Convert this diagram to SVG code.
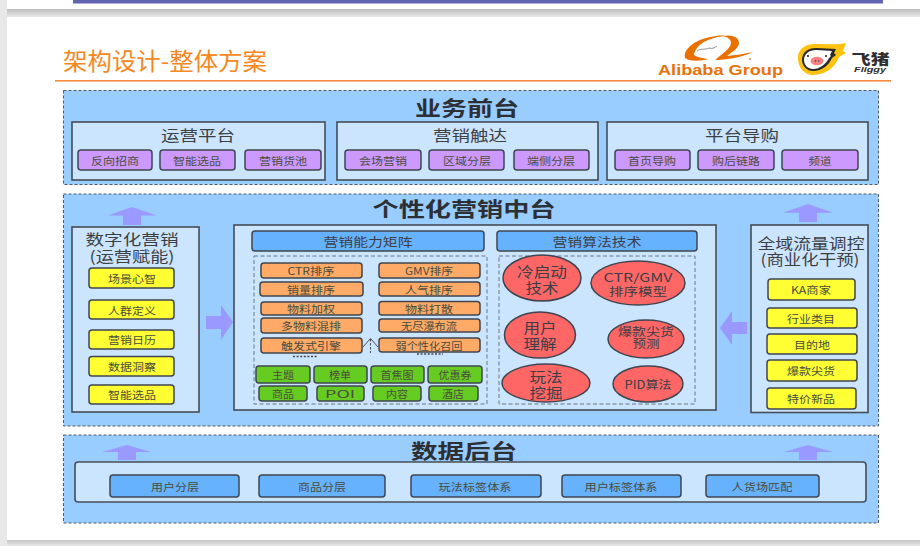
<svg xmlns="http://www.w3.org/2000/svg" width="920" height="546" viewBox="0 0 920 546">
<style>
text{font-family:"Noto Sans CJK SC","Liberation Sans",sans-serif;text-anchor:middle;dominant-baseline:central;fill:#3c3f44}
.panel{fill:#99ccff;stroke:#4f5a68;stroke-width:1;stroke-dasharray:3 2}
.box{fill:#cce5ff;stroke:#454d58;stroke-width:1.6}
.inner{fill:none;stroke:#6a7480;stroke-width:1;stroke-dasharray:4 2.5}
.p,.y,.o,.g,.b,.e{stroke:#3f4650;stroke-width:1.5}
.p{fill:#cc99ff}.y{fill:#ffff33}.o{fill:#ffaa66}.g{fill:#66cc22}.b{fill:#66b2ff}.e{fill:#ff6666}
.arrow{fill:#9999ff}
.h1{font-size:20px;font-weight:700;fill:#2c2f33}
.h2{font-size:15px}
.h3{font-size:12.5px}
.t{font-size:10px;fill:#4a4d3c}
.m{font-size:13.5px}
.s{font-size:11.5px}
</style>

<!-- slide backdrop -->
<defs>
<linearGradient id="gap" x1="0" y1="0" x2="0" y2="1"><stop offset="0" stop-color="#bdbdbd"/><stop offset="1" stop-color="#e8e8e8"/></linearGradient>
<linearGradient id="gapB" x1="0" y1="0" x2="0" y2="1"><stop offset="0" stop-color="#c4c4c4"/><stop offset="1" stop-color="#e8e8e8"/></linearGradient>
</defs>
<rect width="920" height="546" fill="#e8e8e8"/>
<rect x="7" y="0" width="913" height="9" fill="#fff"/>
<rect x="7" y="9" width="913" height="8" fill="url(#gap)"/>
<rect x="73" y="0" width="810" height="3.5" fill="#5f63b0"/>
<rect x="7" y="17" width="913" height="523" fill="#fff"/>
<rect x="7" y="540" width="913" height="6" fill="url(#gapB)"/>

<!-- heading -->
<g id="title">
<text x="165" y="60" textLength="204" lengthAdjust="spacingAndGlyphs" style="font-size:23.5px;fill:#f5881f">架构设计-整体方案</text>
<rect x="55" y="80" width="836" height="1.6" fill="#f98a3c"/>
</g>

<!-- Alibaba Group mark -->
<g id="logo-alibaba">
<path d="M685 58C683 49 695 40 710 37C716 36 722 35 725 36C715 37 706 40 701 44C697 47 694 52 694 55C698 58 704 58 708 59C702 61 690 62 685 58Z" fill="#ea7000"/>
<path d="M723 36C732 34 739 37 739 43C739 48 732 52 727 56C735 55 745 54 753 52C745 56 730 60 715 60C722 54 731 48 731 43C731 39 727 37 723 36Z" fill="#ea7000"/>
<path d="M697 51C701 48 706 50 709 48C712 49 715 48 717 46" fill="none" stroke="#666" stroke-width=".7"/>
<circle cx="750" cy="59" r="1.2" fill="#e9a878"/>
<text x="720.5" y="70" textLength="125" lengthAdjust="spacingAndGlyphs" style="font-family:'Liberation Sans',sans-serif;font-size:14px;font-weight:700;fill:#e8720c">Alibaba Group</text>
</g>

<!-- Fliggy mark -->
<g id="logo-fliggy">
<path d="M798 60C797 50 804 44 815 44C827 44 838 45 846 43L843 51L846 53L839 57C836 66 826 75 813 75C804 75 799 68 798 60Z" fill="#ffc20e"/>
<path d="M802 60C802 52 808 48 816 48C824 48 830 49 836 49L834 53L836 55L832 58C829 65 822 71 813 71C807 71 802 66 802 60Z" fill="#2a2a2a"/>
<path d="M804 60C804 54 809 50 816 50C823 50 828 51 832 51L830 55L831 56L829 58C826 64 820 69 813 69C808 69 804 65 804 60Z" fill="#fff"/>
<ellipse cx="817" cy="61" rx="6.5" ry="4.2" fill="#fb7f85"/>
<circle cx="815.5" cy="61" r=".8" fill="#333"/><circle cx="818.8" cy="61" r=".8" fill="#333"/>
<circle cx="808" cy="56" r="1" fill="#222"/><circle cx="826" cy="56" r="1" fill="#222"/>
<text x="870.5" y="57.5" textLength="38" lengthAdjust="spacingAndGlyphs" style="font-size:14px;font-weight:900;fill:#2f2f2f">飞猪</text>
<text x="870" y="69.5" textLength="32" lengthAdjust="spacingAndGlyphs" style="font-family:'Liberation Sans',sans-serif;font-size:7.5px;font-style:italic;font-weight:700;fill:#2f2f2f">Fliggy</text>
</g>

<!-- top tier -->
<g id="tier-front">
<rect class="panel" x="63.5" y="90.5" width="815" height="94"/>
<text class="h1" x="467" y="107.5" textLength="104" lengthAdjust="spacingAndGlyphs">业务前台</text>
</g>
<g id="front-ops">
<rect class="box" x="72" y="122" width="253" height="58"/>
<text class="h2" x="198" y="134.5" textLength="74" lengthAdjust="spacingAndGlyphs">运营平台</text>
<rect class="p" x="78" y="150" width="74" height="20" rx="3"/><text class="t" x="115" y="160" textLength="48" lengthAdjust="spacingAndGlyphs">反向招商</text>
<rect class="p" x="160" y="150" width="75" height="20" rx="3"/><text class="t" x="197" y="160" textLength="48" lengthAdjust="spacingAndGlyphs">智能选品</text>
<rect class="p" x="245" y="150" width="76" height="20" rx="3"/><text class="t" x="283" y="160" textLength="48" lengthAdjust="spacingAndGlyphs">营销货池</text>
</g>
<g id="front-reach">
<rect class="box" x="337" y="122" width="261" height="58"/>
<text class="h2" x="470" y="134.5" textLength="74" lengthAdjust="spacingAndGlyphs">营销触达</text>
<rect class="p" x="345" y="150" width="76" height="20" rx="3"/><text class="t" x="383" y="160" textLength="48" lengthAdjust="spacingAndGlyphs">会场营销</text>
<rect class="p" x="429" y="150" width="75" height="20" rx="3"/><text class="t" x="467" y="160" textLength="48" lengthAdjust="spacingAndGlyphs">区域分层</text>
<rect class="p" x="514" y="150" width="75" height="20" rx="3"/><text class="t" x="551" y="160" textLength="48" lengthAdjust="spacingAndGlyphs">端侧分层</text>
</g>
<g id="front-guide">
<rect class="box" x="607" y="122" width="261" height="58"/>
<text class="h2" x="742" y="134.5" textLength="74" lengthAdjust="spacingAndGlyphs">平台导购</text>
<rect class="p" x="615" y="150" width="75" height="20" rx="3"/><text class="t" x="652" y="160" textLength="48" lengthAdjust="spacingAndGlyphs">首页导购</text>
<rect class="p" x="698" y="150" width="76" height="20" rx="3"/><text class="t" x="736" y="160" textLength="48" lengthAdjust="spacingAndGlyphs">购后链路</text>
<rect class="p" x="782" y="150" width="76" height="20" rx="3"/><text class="t" x="820" y="160" textLength="23" lengthAdjust="spacingAndGlyphs">频道</text>
</g>

<!-- middle tier -->
<g id="tier-middle">
<rect class="panel" x="63.5" y="194" width="815" height="232"/>
<text class="h1" x="464" y="208.5" textLength="183" lengthAdjust="spacingAndGlyphs">个性化营销中台</text>
</g>

<g id="digital-marketing">
<rect class="box" x="72" y="227" width="127" height="185"/>
<text class="h2" x="132" y="238" textLength="93" lengthAdjust="spacingAndGlyphs">数字化营销</text>
<text class="h2" x="132" y="255" textLength="85" lengthAdjust="spacingAndGlyphs">(运营赋能)</text>
<rect class="y" x="89" y="268" width="85" height="20" rx="3"/><text class="t" x="132" y="278" textLength="48" lengthAdjust="spacingAndGlyphs">场景心智</text>
<rect class="y" x="89" y="300" width="85" height="19" rx="3"/><text class="t" x="132" y="310" textLength="48" lengthAdjust="spacingAndGlyphs">人群定义</text>
<rect class="y" x="89" y="330" width="85" height="19" rx="3"/><text class="t" x="132" y="339.5" textLength="48" lengthAdjust="spacingAndGlyphs">营销日历</text>
<rect class="y" x="89" y="356.5" width="85" height="19.5" rx="3"/><text class="t" x="132" y="366" textLength="48" lengthAdjust="spacingAndGlyphs">数据洞察</text>
<rect class="y" x="89" y="385" width="85" height="19" rx="3"/><text class="t" x="132" y="394.5" textLength="48" lengthAdjust="spacingAndGlyphs">智能选品</text>
</g>

<g id="capability-center">
<rect class="box" x="234" y="225" width="482" height="185"/>
</g>

<g id="capability-matrix">
<rect class="b" x="252" y="231" width="232" height="20" rx="3"/>
<text class="h3" x="368" y="241" textLength="89" lengthAdjust="spacingAndGlyphs">营销能力矩阵</text>
<rect class="inner" x="254" y="256" width="233" height="148"/>
<rect class="o" x="261" y="263" width="101" height="15" rx="3"/><text class="t" x="311" y="270.5" textLength="47" lengthAdjust="spacingAndGlyphs">CTR排序</text>
<rect class="o" x="379" y="263" width="101" height="15" rx="3"/><text class="t" x="429" y="270.5" textLength="48" lengthAdjust="spacingAndGlyphs">GMV排序</text>
<rect class="o" x="260" y="282" width="103" height="14" rx="3"/><text class="t" x="311" y="289" textLength="48" lengthAdjust="spacingAndGlyphs">销量排序</text>
<rect class="o" x="379" y="282" width="101" height="14" rx="3"/><text class="t" x="429" y="289" textLength="48" lengthAdjust="spacingAndGlyphs">人气排序</text>
<rect class="o" x="261" y="302" width="101" height="13" rx="3"/><text class="t" x="311" y="308" textLength="48" lengthAdjust="spacingAndGlyphs">物料加权</text>
<rect class="o" x="379" y="301.5" width="101" height="13.5" rx="3"/><text class="t" x="429" y="308" textLength="48" lengthAdjust="spacingAndGlyphs">物料打散</text>
<rect class="o" x="261" y="318" width="101" height="15" rx="3"/><text class="t" x="311" y="325" textLength="60" lengthAdjust="spacingAndGlyphs">多物料混排</text>
<rect class="o" x="379" y="319" width="101" height="13" rx="3"/><text class="t" x="429" y="325" textLength="56" lengthAdjust="spacingAndGlyphs">无尽瀑布流</text>
<rect class="o" x="261" y="338" width="101" height="15" rx="3"/><text class="t" x="311" y="345" textLength="60" lengthAdjust="spacingAndGlyphs">触发式引擎</text>
<rect class="o" x="379" y="338" width="101" height="14" rx="3"/><text class="t" x="429" y="345" textLength="67" lengthAdjust="spacingAndGlyphs">弱个性化召回</text>
<path d="M293 356.500H318M417 354H443" stroke="#444" stroke-width="1.5" stroke-dasharray="2 1.6" fill="none"/>
<rect class="g" x="256" y="366" width="54" height="17" rx="3"/><text class="t" x="283" y="374" textLength="22" lengthAdjust="spacingAndGlyphs">主题</text>
<rect class="g" x="314" y="366" width="53" height="17" rx="3"/><text class="t" x="340" y="374" textLength="22" lengthAdjust="spacingAndGlyphs">榜单</text>
<rect class="g" x="371" y="366" width="53" height="17" rx="3"/><text class="t" x="397" y="374" textLength="33" lengthAdjust="spacingAndGlyphs">首焦图</text>
<rect class="g" x="428" y="366" width="54" height="17" rx="3"/><text class="t" x="455" y="374" textLength="33" lengthAdjust="spacingAndGlyphs">优惠券</text>
<rect class="g" x="259" y="386" width="48" height="15" rx="3"/><text class="t" x="283" y="393.5" textLength="22" lengthAdjust="spacingAndGlyphs">商品</text>
<rect class="g" x="317" y="386" width="47" height="15" rx="3"/><text class="t" x="340" y="393.5" textLength="30" lengthAdjust="spacingAndGlyphs">POI</text>
<rect class="g" x="373" y="386" width="48" height="15" rx="3"/><text class="t" x="397" y="393.5" textLength="22" lengthAdjust="spacingAndGlyphs">内容</text>
<rect class="g" x="429" y="386" width="49" height="15" rx="3"/><text class="t" x="453" y="393.5" textLength="22" lengthAdjust="spacingAndGlyphs">酒店</text>
</g>

<g id="algorithms">
<rect class="b" x="497" y="231" width="200" height="20" rx="3"/>
<text class="h3" x="597" y="241" textLength="89" lengthAdjust="spacingAndGlyphs">营销算法技术</text>
<rect class="inner" x="499" y="256" width="196" height="148"/>
<ellipse class="e" cx="542" cy="278" rx="39" ry="23"/>
<text class="m" x="542" y="271" textLength="50" lengthAdjust="spacingAndGlyphs">冷启动</text>
<text class="m" x="542" y="287" textLength="33" lengthAdjust="spacingAndGlyphs">技术</text>
<ellipse class="e" cx="638" cy="283" rx="47" ry="22"/>
<text class="s" x="638" y="277" textLength="69" lengthAdjust="spacingAndGlyphs">CTR/GMV</text>
<text class="s" x="638" y="291" textLength="58" lengthAdjust="spacingAndGlyphs">排序模型</text>
<ellipse class="e" cx="540" cy="335" rx="35.5" ry="23"/>
<text class="m" x="540" y="327" textLength="33" lengthAdjust="spacingAndGlyphs">用户</text>
<text class="m" x="540" y="343" textLength="33" lengthAdjust="spacingAndGlyphs">理解</text>
<ellipse class="e" cx="646" cy="339" rx="38" ry="19"/>
<text class="s" x="646" y="331" textLength="56" lengthAdjust="spacingAndGlyphs">爆款尖货</text>
<text class="s" x="646" y="343" textLength="27" lengthAdjust="spacingAndGlyphs">预测</text>
<ellipse class="e" cx="546" cy="383" rx="44" ry="19"/>
<text class="m" x="546" y="376" textLength="33" lengthAdjust="spacingAndGlyphs">玩法</text>
<text class="m" x="546" y="392" textLength="33" lengthAdjust="spacingAndGlyphs">挖掘</text>
<ellipse class="e" cx="648" cy="384" rx="35" ry="18"/>
<text class="s" x="648" y="384" textLength="47" lengthAdjust="spacingAndGlyphs">PID算法</text>
</g>

<g id="traffic-control">
<rect class="box" x="751" y="225" width="117" height="187.5"/>
<text class="h2" x="811" y="242" textLength="107" lengthAdjust="spacingAndGlyphs">全域流量调控</text>
<text class="h2" x="810" y="258.500" textLength="99" lengthAdjust="spacingAndGlyphs">(商业化干预)</text>
<rect class="y" x="768" y="279" width="87" height="21" rx="3"/><text class="t" x="811" y="289.500" textLength="40" lengthAdjust="spacingAndGlyphs">KA商家</text>
<rect class="y" x="767" y="308" width="90" height="20" rx="3"/><text class="t" x="811" y="318" textLength="48" lengthAdjust="spacingAndGlyphs">行业类目</text>
<rect class="y" x="767" y="334" width="90" height="20" rx="3"/><text class="t" x="812" y="344" textLength="36" lengthAdjust="spacingAndGlyphs">目的地</text>
<rect class="y" x="767" y="360" width="90" height="21" rx="3"/><text class="t" x="811" y="370.500" textLength="48" lengthAdjust="spacingAndGlyphs">爆款尖货</text>
<rect class="y" x="767" y="388" width="89" height="21" rx="3"/><text class="t" x="811" y="398.500" textLength="48" lengthAdjust="spacingAndGlyphs">特价新品</text>
</g>

<!-- bottom tier -->
<g id="tier-data">
<rect class="panel" x="63.5" y="435" width="815" height="88"/>
<text class="h1" x="464" y="450.500" textLength="106" lengthAdjust="spacingAndGlyphs">数据后台</text>
<rect class="box" x="75" y="462" width="791" height="40" rx="3"/>
</g>
<g id="data-user"><rect class="b" x="110" y="475" width="129" height="22" rx="3"/><text class="t" x="175" y="486" textLength="48" lengthAdjust="spacingAndGlyphs">用户分层</text></g>
<g id="data-item"><rect class="b" x="259" y="475" width="126" height="22" rx="3"/><text class="t" x="322" y="486" textLength="48" lengthAdjust="spacingAndGlyphs">商品分层</text></g>
<g id="data-play"><rect class="b" x="411" y="475" width="130" height="22" rx="3"/><text class="t" x="475" y="486" textLength="73" lengthAdjust="spacingAndGlyphs">玩法标签体系</text></g>
<g id="data-tag"><rect class="b" x="562" y="475" width="119" height="22" rx="3"/><text class="t" x="621" y="486" textLength="73" lengthAdjust="spacingAndGlyphs">用户标签体系</text></g>
<g id="data-match"><rect class="b" x="706" y="475" width="113" height="22" rx="3"/><text class="t" x="762" y="486" textLength="61" lengthAdjust="spacingAndGlyphs">人货场匹配</text></g>

<!-- connectors -->
<g id="connectors">
<path class="arrow" d="M132 207L157 215.500H141V225H123V215.500H108Z"/>
<path class="arrow" d="M808 204L833 212.700H817V222H799V212.700H783Z"/>
<path class="arrow" d="M127 445L151 452H136V460H118V452H102Z"/>
<path class="arrow" d="M808 445L833 452H817V460H799V452H784Z"/>
<path class="arrow" d="M233 322L221 305V316H206V329H221V340Z"/>
<path class="arrow" d="M720 328L732 311V322H747V334H732V345Z"/>
<path d="M363 347L370.500 338.500L378 347" fill="none" stroke="#4a4f57" stroke-width="1"/>
<path d="M370.500 339V353" fill="none" stroke="#4a4f57" stroke-width="1" stroke-dasharray="2.500 1.500"/>
</g>
</svg>
